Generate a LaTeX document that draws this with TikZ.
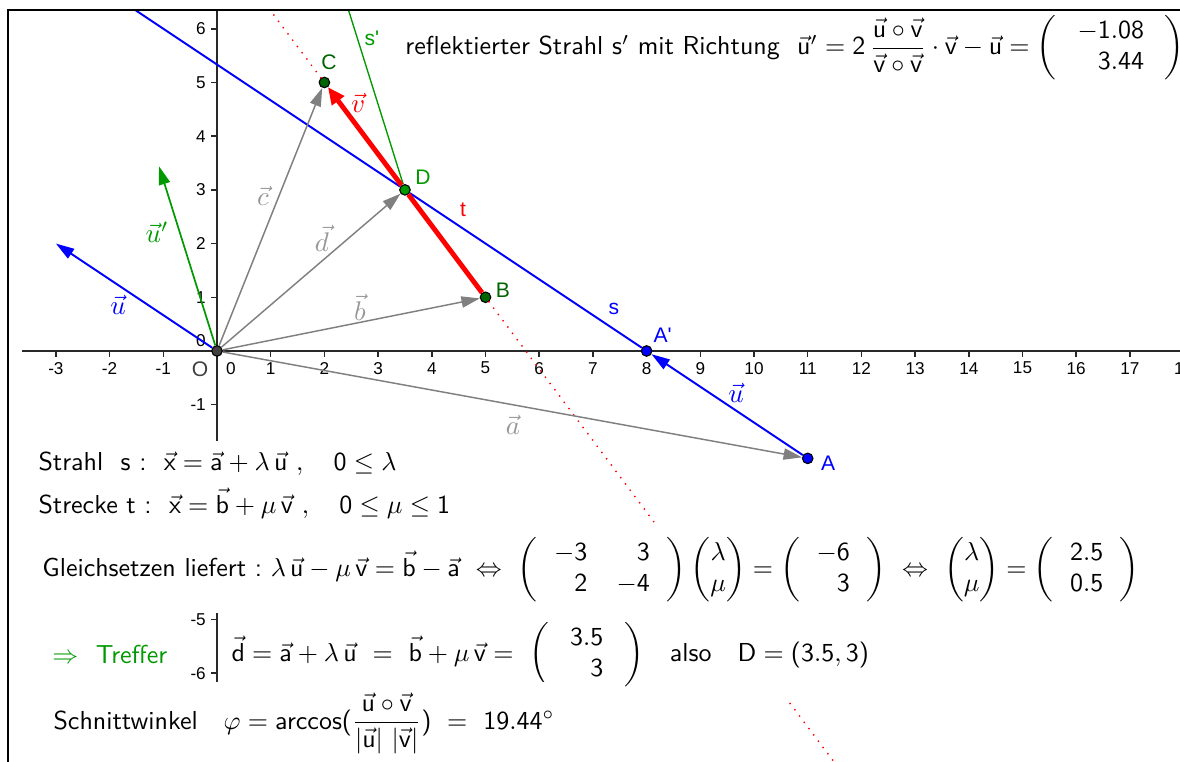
\documentclass[tikz,border=0pt]{standalone}
\usepackage{fix-cm}
\usepackage{amsmath}
\usepackage[no-math]{fontspec}
\newfontfamily\ggbfont{Liberation Sans}
\SetSymbolFont{operators}{normal}{OT1}{cmss}{m}{n}
\usepackage{tikz}
\usetikzlibrary{arrows.meta}
\definecolor{ggbblue}{RGB}{0,0,255}
\definecolor{ggbred}{RGB}{255,0,0}
\definecolor{ggbgreen}{RGB}{0,153,0}
\definecolor{ggbdark}{RGB}{0,100,0}
\definecolor{ggbgray}{RGB}{128,128,128}
\definecolor{ggblight}{RGB}{150,150,150}
\definecolor{ggbaxis}{RGB}{40,40,40}
\newcommand{\sv}[1]{\vec{\mathsf{#1}}}

\begin{document}
\begin{tikzpicture}[x=0.77cm,y=0.77cm,
  pt/.style={circle,draw=black,line width=0.45pt,inner sep=0pt,minimum size=4.3pt},
  vec/.style={-{Triangle[length=7.5pt,width=4.6pt]},line width=0.6pt},
  ax/.style={line width=0.6pt,ggbaxis},
  lbl/.style={inner sep=0pt,font=\fontsize{8.6}{10}\ggbfont},
  vlbl/.style={inner sep=0pt,font=\fontsize{11}{13}\selectfont},
  axlbl/.style={inner sep=0pt,font=\fontsize{7}{8}\ggbfont},
  txt/.style={anchor=west,fill=white,inner xsep=3pt,inner ysep=4.5pt,font=\sffamily\fontsize{10.6}{12.7}\selectfont}]
\useasboundingbox (-4.041,-7.654) rectangle (17.933,6.536);
% frame and axes
\draw[ax] (-3.631,0) -- (18.2,0);
\draw[ax] (0,6.341) -- (0,-7.8);
\foreach \k in {-3,-2,-1,1,2,...,18}{
  \draw[ax] (\k,0) -- (\k,-0.11);
  \node[axlbl] (xl\k) at (\k,-0.32) {\k};}
\foreach \k in {-7,-6,...,-1,1,2,...,6} \draw[ax] (0,\k) -- (-0.12,\k);
\foreach \k in {-6,-5,-1,1,2,...,6} \node[axlbl,anchor=east] (yl\k) at (-0.2,\k) {\k};
\node[axlbl] (xl0) at (0.26,-0.32) {0};
\node[axlbl,anchor=east] (yl0) at (-0.2,0.19) {0};

% points
\node[pt,fill=black!75] (O) at (0,0) {};
\node[pt,fill=ggbblue] (A) at (11,-2) {};
\node[pt,fill=ggbblue] (Ap) at (8,0) {};
\node[pt,fill=ggbdark] (B) at (5,1) {};
\node[pt,fill=ggbdark] (C) at (2,5) {};
\node[pt,fill=ggbgreen] (D) at (3.5,3) {};
\coordinate (U) at (-3,2);
\coordinate (Up) at (-1.08,3.44);
\coordinate (sTop) at (-1.51,6.341);
\coordinate (spTop) at (2.451,6.341);
\coordinate (tTop) at (0.994,6.341);
\coordinate (tBot) at (11.49,-7.654);

% lines and vectors
\foreach \u/\v in {C/tTop,B/tBot}
  \draw[ggbred,line width=0.8pt,line cap=round,dash pattern=on 0pt off 3.2pt] (\u) -- (\v);
\foreach \u/\v in {Ap/D,D/sTop} \draw[ggbblue,line width=0.8pt] (\u) -- (\v);
\draw[ggbgreen,line width=0.55pt] (D) -- (spTop);
\foreach \v in {A,B,C,D} \draw[vec,ggbgray] (O) -- (\v);
\draw[vec,ggbblue,line width=0.8pt] (A) -- (Ap);
\draw[vec,ggbblue,line width=0.8pt] (O) -- (U);
\draw[vec,ggbgreen,line width=0.7pt] (O) -- (Up);
\draw[ggbred,line width=2pt] (B) -- (D);
\draw[ggbred,line width=2pt,-{Triangle[length=7pt,width=6pt]}] (D) -- (C);

% labels
\node[lbl,text=black!75] (Olbl) at (-0.317,-0.335) {O};
\node[lbl,text=ggbdark] (Clbl) at (2.086,5.382) {C};
\node[lbl,text=ggbgreen] (Dlbl) at (3.836,3.24) {D};
\node[lbl,text=ggbdark] (Blbl) at (5.326,1.136) {B};
\node[lbl,text=ggbblue] (Aplbl) at (8.3,0.3) {A'};
\node[lbl,text=ggbblue] (Albl) at (11.38,-2.086) {A};
\node[lbl,text=ggbblue] (slbl) at (7.393,0.782) {s};
\node[lbl,text=ggbred] (tlbl) at (4.581,2.626) {t};
\node[lbl,text=ggbgreen] (splbl) at (2.886,5.829) {s'};
\node[vlbl,text=ggbblue] (ulbl) at (-1.844,0.857) {$\vec{u}$};
\node[vlbl,text=ggbblue] (u2lbl) at (9.665,-0.782) {$\vec{u}$};
\node[vlbl,text=ggbgreen] (uplbl) at (-1.117,2.216) {$\vec{u}'$};
\node[vlbl,text=ggblight] (clbl) at (0.857,2.886) {$\vec{c}$};
\node[vlbl,text=ggblight] (dlbl) at (1.955,2.104) {$\vec{d}$};
\node[vlbl,text=ggblight] (blbl) at (2.663,0.819) {$\vec{b}$};
\node[vlbl,text=ggblight] (albl) at (5.512,-1.378) {$\vec{a}$};
\node[vlbl,text=ggbred] (vlbl) at (2.626,4.618) {$\vec{v}$};

% texts
\node[txt,inner ysep=0.5pt] (refl) at (3.364,5.64) {reflektierter Strahl s$'$ mit Richtung\ \ $\sv{u}'=2\,\dfrac{\sv{u}\circ\sv{v}}{\sv{v}\circ\sv{v}}\cdot\sv{v}-\sv{u}=\left(\ \begin{array}{r}-1.08\\3.44\end{array}\ \right)$};
\node[txt] (ray) at (-3.47,-2.1) {Strahl\ \ s\ :\ \ $\sv{x}=\sv{a}+\lambda\,\sv{u}\ ,\quad 0\le\lambda$};
\node[txt] (seg) at (-3.47,-2.84) {Strecke t\ :\ \ $\sv{x}=\sv{b}+\mu\,\sv{v}\ ,\quad 0\le\mu\le1$};
\node[txt] (eqs) at (-3.396,-4.08) {Gleichsetzen liefert\ :\ $\lambda\,\sv{u}-\mu\,\sv{v}=\sv{b}-\sv{a}\ \Leftrightarrow\ \left(\,\begin{array}{r@{\hspace{12pt}}r}-3&3\\2&-4\end{array}\,\right)\begin{pmatrix}\lambda\\\mu\end{pmatrix}=\left(\,\begin{array}{r}-6\\3\end{array}\,\right)\ \Leftrightarrow\ \begin{pmatrix}\lambda\\\mu\end{pmatrix}=\left(\,\begin{array}{r}2.5\\0.5\end{array}\,\right)$};
\node[txt,text=ggbgreen] (hit) at (-3.21,-5.66) {$\Rightarrow$\ \ Treffer};
\node[txt] (dvec) at (0.124,-5.66) {$\sv{d}=\sv{a}+\lambda\,\sv{u}\ =\ \sv{b}+\mu\,\sv{v}=\ \left(\ \begin{array}{r}3.5\\3\end{array}\ \right)$\quad also\quad $\mathsf{D}=(3.5,3)$};
\node[txt] (angle) at (-3.19,-6.93) {Schnittwinkel\quad $\varphi=\mathrm{arccos}(\dfrac{\sv{u}\circ\sv{v}}{|\sv{u}|\ |\sv{v}|})\ =\ 19.44^\circ$};
\draw[line width=0.8pt] (-3.892,-7.8) -- (-3.892,6.341) -- (18.2,6.341);
\end{tikzpicture}
\end{document}
